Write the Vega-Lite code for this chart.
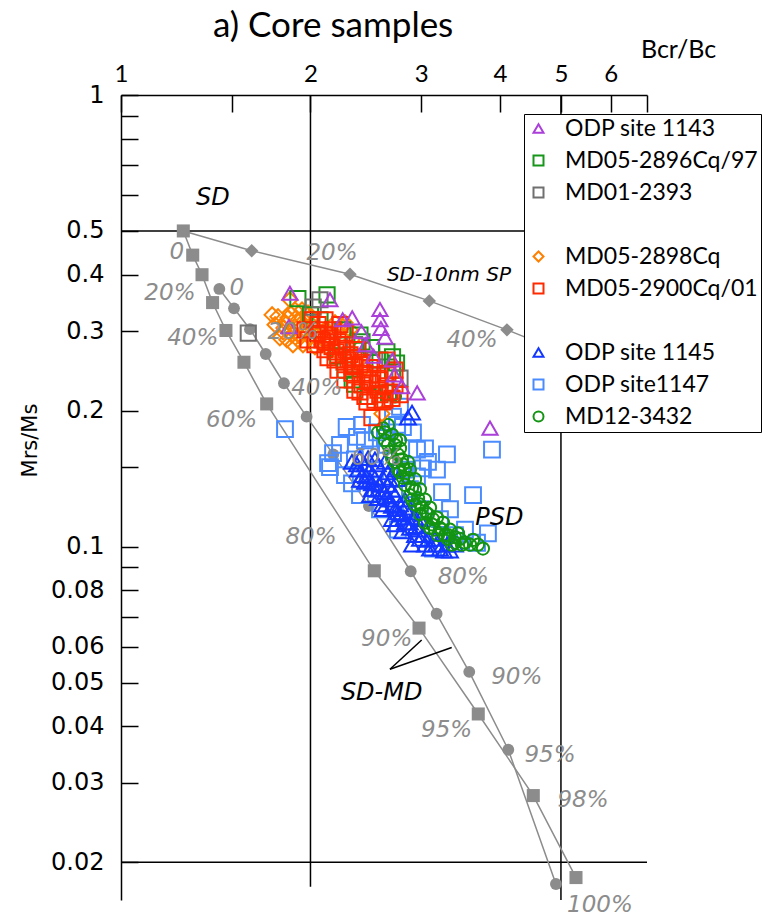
{
  "$schema": "https://vega.github.io/schema/vega-lite/v6.json",
  "width": 526,
  "height": 805,
  "autosize": {"type": "none"},
  "padding": {"left": 121, "top": 95, "right": 122, "bottom": 18},
  "background": "white",
  "title": {"text": "a) Core samples", "anchor": "start", "frame": "group", "dx": 92, "dy": 7, "font": "Lato", "fontSize": 35, "fontWeight": "normal", "color": "black", "offset": 0},
  "config": {
    "font": "DejaVu Sans",
    "view": {"stroke": null},
    "axis": {"grid": false, "domainColor": "black", "domainWidth": 1.5, "tickColor": "black", "tickWidth": 1.5, "labelColor": "black", "titleColor": "black", "titleFontWeight": "normal", "labelOverlap": false, "labelFlush": false}
  },
  "datasets": {
    "vlines": [{"x": 2, "y": 1, "y2": 0.01765}, {"x": 5, "y": 1, "y2": 0.0165}],
    "hlines": [{"y": 0.5}, {"y": 0.02}],
    "model": [
      {"curve": "sq", "x": 1.256, "y": 0.5}, {"curve": "sq", "x": 1.3, "y": 0.442}, {"curve": "sq", "x": 1.345, "y": 0.4}, {"curve": "sq", "x": 1.398, "y": 0.347}, {"curve": "sq", "x": 1.468, "y": 0.301}, {"curve": "sq", "x": 1.568, "y": 0.256}, {"curve": "sq", "x": 1.704, "y": 0.207}, {"curve": "sq", "x": 2.526, "y": 0.0884}, {"curve": "sq", "x": 2.975, "y": 0.066}, {"curve": "sq", "x": 3.695, "y": 0.0426}, {"curve": "sq", "x": 4.519, "y": 0.0281}, {"curve": "sq", "x": 5.283, "y": 0.0185},
      {"curve": "ci", "x": 1.433, "y": 0.372}, {"curve": "ci", "x": 1.512, "y": 0.337}, {"curve": "ci", "x": 1.603, "y": 0.303}, {"curve": "ci", "x": 1.698, "y": 0.267}, {"curve": "ci", "x": 1.815, "y": 0.23}, {"curve": "ci", "x": 1.972, "y": 0.194}, {"curve": "ci", "x": 2.174, "y": 0.16}, {"curve": "ci", "x": 2.477, "y": 0.123}, {"curve": "ci", "x": 2.886, "y": 0.0882}, {"curve": "ci", "x": 3.173, "y": 0.071}, {"curve": "ci", "x": 3.575, "y": 0.0528}, {"curve": "ci", "x": 4.124, "y": 0.0355}, {"curve": "ci", "x": 4.909, "y": 0.0179},
      {"curve": "di", "x": 1.256, "y": 0.5}, {"curve": "di", "x": 1.613, "y": 0.452}, {"curve": "di", "x": 2.311, "y": 0.401}, {"curve": "di", "x": 3.089, "y": 0.35}, {"curve": "di", "x": 4.104, "y": 0.302}, {"curve": "di", "x": 4.98, "y": 0.271}
    ],
    "greylabels": [
      {"label": "0", "x": 1.226, "y": 0.45}, {"label": "20%", "x": 1.196, "y": 0.364}, {"label": "40%", "x": 1.3, "y": 0.29}, {"label": "60%", "x": 1.499, "y": 0.191}, {"label": "80%", "x": 2.004, "y": 0.105}, {"label": "90%", "x": 2.643, "y": 0.0625}, {"label": "95%", "x": 3.291, "y": 0.0393}, {"label": "98%", "x": 5.419, "y": 0.0275}, {"label": "100%", "x": 5.767, "y": 0.0161},
      {"label": "0", "x": 1.527, "y": 0.373}, {"label": "20%", "x": 1.876, "y": 0.299}, {"label": "40%", "x": 2.046, "y": 0.2245}, {"label": "60%", "x": 2.548, "y": 0.157}, {"label": "80%", "x": 3.498, "y": 0.0858}, {"label": "90%", "x": 4.253, "y": 0.0515}, {"label": "95%", "x": 4.803, "y": 0.0346},
      {"label": "20%", "x": 2.164, "y": 0.447}, {"label": "40%", "x": 3.611, "y": 0.287}
    ],
    "blacklabels": [
      {"label": "SD", "x": 1.4, "y": 0.592}, {"label": "PSD", "x": 3.99, "y": 0.1156}, {"label": "SD-MD", "x": 2.595, "y": 0.0474}, {"label": "SD-10nm SP", "x": 3.319, "y": 0.3995}
    ],
    "pointers": [
      {"x": 2.675, "y": 0.0535, "x2": 3.004, "y2": 0.0621}, {"x": 2.675, "y": 0.0535, "x2": 3.353, "y2": 0.0598}
    ],
    "samples": [
      {"series": "ODP site1147", "x": 1.822, "y": 0.182}, {"series": "ODP site1147", "x": 2.283, "y": 0.184}, {"series": "ODP site1147", "x": 2.228, "y": 0.168}, {"series": "ODP site1147", "x": 2.133, "y": 0.153}, {"series": "ODP site1147", "x": 2.148, "y": 0.15}, {"series": "ODP site1147", "x": 2.269, "y": 0.144}, {"series": "ODP site1147", "x": 2.397, "y": 0.13}, {"series": "ODP site1147", "x": 3.041, "y": 0.165}, {"series": "ODP site1147", "x": 3.074, "y": 0.154}, {"series": "ODP site1147", "x": 3.018, "y": 0.149}, {"series": "ODP site1147", "x": 3.236, "y": 0.132}, {"series": "ODP site1147", "x": 3.625, "y": 0.13}, {"series": "ODP site1147", "x": 3.885, "y": 0.164}, {"series": "ODP site1147", "x": 3.828, "y": 0.107}, {"series": "ODP site1147", "x": 3.678, "y": 0.102}, {"series": "ODP site1147", "x": 3.131, "y": 0.099}, {"series": "ODP site1147", "x": 2.805, "y": 0.184}, {"series": "ODP site1147", "x": 2.745, "y": 0.186}, {"series": "ODP site1147", "x": 2.551, "y": 0.179}, {"series": "ODP site1147", "x": 2.371, "y": 0.175}, {"series": "ODP site1147", "x": 2.91, "y": 0.179}, {"series": "ODP site1147", "x": 2.953, "y": 0.164}, {"series": "ODP site1147", "x": 2.953, "y": 0.143}, {"series": "ODP site1147", "x": 2.775, "y": 0.204}, {"series": "ODP site1147", "x": 2.705, "y": 0.194}, {"series": "ODP site1147", "x": 2.328, "y": 0.138}, {"series": "ODP site1147", "x": 2.172, "y": 0.161}, {"series": "ODP site1147", "x": 2.441, "y": 0.172}, {"series": "ODP site1147", "x": 2.626, "y": 0.174}, {"series": "ODP site1147", "x": 2.878, "y": 0.134}, {"series": "ODP site1147", "x": 2.985, "y": 0.121}, {"series": "ODP site1147", "x": 3.212, "y": 0.115}, {"series": "ODP site1147", "x": 3.393, "y": 0.106}, {"series": "ODP site1147", "x": 2.532, "y": 0.148}, {"series": "ODP site1147", "x": 2.724, "y": 0.124}, {"series": "ODP site1147", "x": 2.486, "y": 0.16}, {"series": "ODP site1147", "x": 2.353, "y": 0.156}, {"series": "ODP site1147", "x": 2.826, "y": 0.148}, {"series": "ODP site1147", "x": 3.332, "y": 0.121}, {"series": "ODP site1147", "x": 3.52, "y": 0.109}, {"series": "ODP site1147", "x": 2.415, "y": 0.186}, {"series": "ODP site1147", "x": 2.645, "y": 0.168}, {"series": "ODP site1147", "x": 3.177, "y": 0.148}, {"series": "ODP site1147", "x": 3.295, "y": 0.16}, {"series": "ODP site1147", "x": 2.579, "y": 0.121}, {"series": "ODP site1147", "x": 2.754, "y": 0.109},
      {"series": "ODP site 1145", "x": 2.857, "y": 0.193}, {"series": "ODP site 1145", "x": 2.9, "y": 0.198}, {"series": "ODP site 1145", "x": 2.397, "y": 0.157}, {"series": "ODP site 1145", "x": 2.441, "y": 0.152}, {"series": "ODP site 1145", "x": 2.486, "y": 0.148}, {"series": "ODP site 1145", "x": 2.415, "y": 0.144}, {"series": "ODP site 1145", "x": 2.532, "y": 0.142}, {"series": "ODP site 1145", "x": 2.579, "y": 0.137}, {"series": "ODP site 1145", "x": 2.504, "y": 0.134}, {"series": "ODP site 1145", "x": 2.626, "y": 0.132}, {"series": "ODP site 1145", "x": 2.675, "y": 0.127}, {"series": "ODP site 1145", "x": 2.598, "y": 0.124}, {"series": "ODP site 1145", "x": 2.724, "y": 0.121}, {"series": "ODP site 1145", "x": 2.775, "y": 0.118}, {"series": "ODP site 1145", "x": 2.695, "y": 0.115}, {"series": "ODP site 1145", "x": 2.826, "y": 0.113}, {"series": "ODP site 1145", "x": 2.878, "y": 0.11}, {"series": "ODP site 1145", "x": 2.795, "y": 0.108}, {"series": "ODP site 1145", "x": 2.932, "y": 0.106}, {"series": "ODP site 1145", "x": 2.985, "y": 0.104}, {"series": "ODP site 1145", "x": 2.9, "y": 0.101}, {"series": "ODP site 1145", "x": 3.041, "y": 0.101}, {"series": "ODP site 1145", "x": 3.097, "y": 0.099}, {"series": "ODP site 1145", "x": 3.212, "y": 0.099}, {"series": "ODP site 1145", "x": 3.332, "y": 0.098}, {"series": "ODP site 1145", "x": 3.393, "y": 0.101}, {"series": "ODP site 1145", "x": 2.469, "y": 0.157}, {"series": "ODP site 1145", "x": 2.56, "y": 0.152}, {"series": "ODP site 1145", "x": 2.655, "y": 0.146}, {"series": "ODP site 1145", "x": 2.754, "y": 0.141}, {"series": "ODP site 1145", "x": 2.441, "y": 0.139}, {"series": "ODP site 1145", "x": 2.56, "y": 0.128}, {"series": "ODP site 1145", "x": 2.724, "y": 0.112}, {"series": "ODP site 1145", "x": 2.964, "y": 0.109}, {"series": "ODP site 1145", "x": 3.153, "y": 0.104}, {"series": "ODP site 1145", "x": 3.295, "y": 0.101}, {"series": "ODP site 1145", "x": 2.371, "y": 0.152}, {"series": "ODP site 1145", "x": 2.607, "y": 0.142}, {"series": "ODP site 1145", "x": 2.878, "y": 0.119}, {"series": "ODP site 1145", "x": 2.486, "y": 0.1405}, {"series": "ODP site 1145", "x": 2.695, "y": 0.1335}, {"series": "ODP site 1145", "x": 2.826, "y": 0.127}, {"series": "ODP site 1145", "x": 2.985, "y": 0.115}, {"series": "ODP site 1145", "x": 2.626, "y": 0.154}, {"series": "ODP site 1145", "x": 2.724, "y": 0.148},
      {"series": "ODP site 1145", "x": 2.328, "y": 0.154}, {"series": "ODP site 1145", "x": 2.38, "y": 0.148}, {"series": "ODP site 1145", "x": 2.45, "y": 0.143}, {"series": "ODP site 1145", "x": 2.504, "y": 0.138}, {"series": "ODP site 1145", "x": 2.56, "y": 0.1335}, {"series": "ODP site 1145", "x": 2.636, "y": 0.129}, {"series": "ODP site 1145", "x": 2.695, "y": 0.123}, {"series": "ODP site 1145", "x": 2.754, "y": 0.119}, {"series": "ODP site 1145", "x": 2.816, "y": 0.116}, {"series": "ODP site 1145", "x": 2.878, "y": 0.113}, {"series": "ODP site 1145", "x": 2.942, "y": 0.111}, {"series": "ODP site 1145", "x": 3.018, "y": 0.106}, {"series": "ODP site 1145", "x": 3.074, "y": 0.1035}, {"series": "ODP site 1145", "x": 3.165, "y": 0.101}, {"series": "ODP site 1145", "x": 3.26, "y": 0.098}, {"series": "ODP site 1145", "x": 2.655, "y": 0.137}, {"series": "ODP site 1145", "x": 2.775, "y": 0.124}, {"series": "ODP site 1145", "x": 2.397, "y": 0.1405}, {"series": "ODP site 1145", "x": 2.486, "y": 0.13}, {"series": "ODP site 1145", "x": 2.607, "y": 0.121}, {"series": "ODP site 1145", "x": 2.724, "y": 0.13}, {"series": "ODP site 1145", "x": 2.826, "y": 0.122}, {"series": "ODP site 1145", "x": 2.932, "y": 0.116}, {"series": "ODP site 1145", "x": 2.532, "y": 0.156}, {"series": "ODP site 1145", "x": 2.675, "y": 0.1405},
      {"series": "MD12-3432", "x": 2.724, "y": 0.215}, {"series": "MD12-3432", "x": 2.607, "y": 0.183}, {"series": "MD12-3432", "x": 2.655, "y": 0.186}, {"series": "MD12-3432", "x": 2.695, "y": 0.177}, {"series": "MD12-3432", "x": 2.626, "y": 0.172}, {"series": "MD12-3432", "x": 2.724, "y": 0.168}, {"series": "MD12-3432", "x": 2.675, "y": 0.162}, {"series": "MD12-3432", "x": 2.754, "y": 0.16}, {"series": "MD12-3432", "x": 2.724, "y": 0.154}, {"series": "MD12-3432", "x": 2.805, "y": 0.152}, {"series": "MD12-3432", "x": 2.775, "y": 0.146}, {"series": "MD12-3432", "x": 2.857, "y": 0.142}, {"series": "MD12-3432", "x": 2.826, "y": 0.137}, {"series": "MD12-3432", "x": 2.9, "y": 0.135}, {"series": "MD12-3432", "x": 2.878, "y": 0.13}, {"series": "MD12-3432", "x": 2.964, "y": 0.128}, {"series": "MD12-3432", "x": 2.932, "y": 0.124}, {"series": "MD12-3432", "x": 3.007, "y": 0.122}, {"series": "MD12-3432", "x": 2.985, "y": 0.118}, {"series": "MD12-3432", "x": 3.074, "y": 0.118}, {"series": "MD12-3432", "x": 3.041, "y": 0.113}, {"series": "MD12-3432", "x": 3.119, "y": 0.112}, {"series": "MD12-3432", "x": 3.153, "y": 0.109}, {"series": "MD12-3432", "x": 3.212, "y": 0.11}, {"series": "MD12-3432", "x": 3.189, "y": 0.106}, {"series": "MD12-3432", "x": 3.272, "y": 0.106}, {"series": "MD12-3432", "x": 3.307, "y": 0.104}, {"series": "MD12-3432", "x": 3.393, "y": 0.105}, {"series": "MD12-3432", "x": 3.357, "y": 0.101}, {"series": "MD12-3432", "x": 3.456, "y": 0.104}, {"series": "MD12-3432", "x": 3.52, "y": 0.102}, {"series": "MD12-3432", "x": 3.585, "y": 0.101}, {"series": "MD12-3432", "x": 3.691, "y": 0.101}, {"series": "MD12-3432", "x": 3.759, "y": 0.099}, {"series": "MD12-3432", "x": 2.655, "y": 0.168}, {"series": "MD12-3432", "x": 2.775, "y": 0.165}, {"series": "MD12-3432", "x": 2.795, "y": 0.156}, {"series": "MD12-3432", "x": 2.878, "y": 0.148}, {"series": "MD12-3432", "x": 2.932, "y": 0.141}, {"series": "MD12-3432", "x": 2.985, "y": 0.134}, {"series": "MD12-3432", "x": 3.041, "y": 0.127}, {"series": "MD12-3432", "x": 3.097, "y": 0.122}, {"series": "MD12-3432", "x": 3.177, "y": 0.116}, {"series": "MD12-3432", "x": 3.248, "y": 0.113}, {"series": "MD12-3432", "x": 3.332, "y": 0.109}, {"series": "MD12-3432", "x": 3.431, "y": 0.107},
      {"series": "MD12-3432", "x": 2.56, "y": 0.179}, {"series": "MD12-3432", "x": 2.626, "y": 0.179}, {"series": "MD12-3432", "x": 2.734, "y": 0.172}, {"series": "MD12-3432", "x": 2.695, "y": 0.157}, {"series": "MD12-3432", "x": 2.826, "y": 0.148}, {"series": "MD12-3432", "x": 2.805, "y": 0.142}, {"series": "MD12-3432", "x": 2.932, "y": 0.1335}, {"series": "MD12-3432", "x": 2.9, "y": 0.127}, {"series": "MD12-3432", "x": 2.985, "y": 0.124}, {"series": "MD12-3432", "x": 3.052, "y": 0.119}, {"series": "MD12-3432", "x": 3.131, "y": 0.115}, {"series": "MD12-3432", "x": 3.097, "y": 0.11}, {"series": "MD12-3432", "x": 3.236, "y": 0.109}, {"series": "MD12-3432", "x": 3.307, "y": 0.106}, {"series": "MD12-3432", "x": 3.393, "y": 0.102}, {"series": "MD12-3432", "x": 3.481, "y": 0.101}, {"series": "MD12-3432", "x": 3.625, "y": 0.1035}, {"series": "MD12-3432", "x": 2.775, "y": 0.172}, {"series": "MD12-3432", "x": 2.857, "y": 0.154}, {"series": "MD12-3432", "x": 2.754, "y": 0.148},
      {"series": "MD05-2898Cq", "x": 1.738, "y": 0.326}, {"series": "MD05-2898Cq", "x": 1.788, "y": 0.29}, {"series": "MD05-2898Cq", "x": 1.855, "y": 0.329}, {"series": "MD05-2898Cq", "x": 1.939, "y": 0.334}, {"series": "MD05-2898Cq", "x": 1.982, "y": 0.329}, {"series": "MD05-2898Cq", "x": 1.89, "y": 0.307}, {"series": "MD05-2898Cq", "x": 2.252, "y": 0.307}, {"series": "MD05-2898Cq", "x": 2.188, "y": 0.313}, {"series": "MD05-2898Cq", "x": 2.328, "y": 0.287}, {"series": "MD05-2898Cq", "x": 2.441, "y": 0.249}, {"series": "MD05-2898Cq", "x": 2.38, "y": 0.256}, {"series": "MD05-2898Cq", "x": 1.776, "y": 0.323}, {"series": "MD05-2898Cq", "x": 1.808, "y": 0.299}, {"series": "MD05-2898Cq", "x": 1.835, "y": 0.287}, {"series": "MD05-2898Cq", "x": 1.982, "y": 0.326}, {"series": "MD05-2898Cq", "x": 1.924, "y": 0.31}, {"series": "MD05-2898Cq", "x": 2.269, "y": 0.313}, {"series": "MD05-2898Cq", "x": 2.311, "y": 0.302}, {"series": "MD05-2898Cq", "x": 2.033, "y": 0.277}, {"series": "MD05-2898Cq", "x": 1.855, "y": 0.352}, {"series": "MD05-2898Cq", "x": 1.822, "y": 0.314}, {"series": "MD05-2898Cq", "x": 1.869, "y": 0.294}, {"series": "MD05-2898Cq", "x": 1.91, "y": 0.287}, {"series": "MD05-2898Cq", "x": 1.96, "y": 0.302}, {"series": "MD05-2898Cq", "x": 1.996, "y": 0.29}, {"series": "MD05-2898Cq", "x": 2.056, "y": 0.294}, {"series": "MD05-2898Cq", "x": 2.086, "y": 0.28}, {"series": "MD05-2898Cq", "x": 2.133, "y": 0.284}, {"series": "MD05-2898Cq", "x": 2.011, "y": 0.31}, {"series": "MD05-2898Cq", "x": 2.109, "y": 0.302}, {"series": "MD05-2898Cq", "x": 2.148, "y": 0.273}, {"series": "MD05-2898Cq", "x": 2.228, "y": 0.266}, {"series": "MD05-2898Cq", "x": 2.598, "y": 0.197}, {"series": "MD05-2898Cq", "x": 1.897, "y": 0.321}, {"series": "MD05-2898Cq", "x": 1.946, "y": 0.28}, {"series": "MD05-2898Cq", "x": 1.757, "y": 0.31}, {"series": "MD05-2898Cq", "x": 1.842, "y": 0.321}, {"series": "MD05-2898Cq", "x": 1.89, "y": 0.334}, {"series": "MD05-2898Cq", "x": 1.924, "y": 0.294}, {"series": "MD05-2898Cq", "x": 1.967, "y": 0.314}, {"series": "MD05-2898Cq", "x": 1.815, "y": 0.305}, {"series": "MD05-2898Cq", "x": 1.876, "y": 0.28},
      {"series": "MD05-2896Cq/97", "x": 1.91, "y": 0.354}, {"series": "MD05-2896Cq/97", "x": 2.125, "y": 0.361}, {"series": "MD05-2896Cq/97", "x": 2.25, "y": 0.302}, {"series": "MD05-2896Cq/97", "x": 2.415, "y": 0.284}, {"series": "MD05-2896Cq/97", "x": 2.5, "y": 0.276}, {"series": "MD05-2896Cq/97", "x": 2.645, "y": 0.27}, {"series": "MD05-2896Cq/97", "x": 2.7, "y": 0.263}, {"series": "MD05-2896Cq/97", "x": 2.74, "y": 0.255}, {"series": "MD05-2896Cq/97", "x": 2.7, "y": 0.246}, {"series": "MD05-2896Cq/97", "x": 2.35, "y": 0.229}, {"series": "MD05-2896Cq/97", "x": 2.33, "y": 0.234}, {"series": "MD05-2896Cq/97", "x": 2.47, "y": 0.215}, {"series": "MD05-2896Cq/97", "x": 2.66, "y": 0.219}, {"series": "MD05-2896Cq/97", "x": 2.27, "y": 0.246}, {"series": "MD05-2896Cq/97", "x": 2.21, "y": 0.2645}, {"series": "MD05-2896Cq/97", "x": 2.0, "y": 0.326}, {"series": "MD05-2896Cq/97", "x": 2.071, "y": 0.318}, {"series": "MD05-2896Cq/97", "x": 2.397, "y": 0.294}, {"series": "MD05-2896Cq/97", "x": 2.579, "y": 0.259},
      {"series": "MD01-2393", "x": 1.593, "y": 0.297}, {"series": "MD01-2393", "x": 2.071, "y": 0.352}, {"series": "MD01-2393", "x": 2.02, "y": 0.339}, {"series": "MD01-2393", "x": 2.35, "y": 0.28}, {"series": "MD01-2393", "x": 2.53, "y": 0.259}, {"series": "MD01-2393", "x": 2.775, "y": 0.236},
      {"series": "MD05-2900Cq/01", "x": 1.96, "y": 0.302}, {"series": "MD05-2900Cq/01", "x": 2.011, "y": 0.318}, {"series": "MD05-2900Cq/01", "x": 2.056, "y": 0.31}, {"series": "MD05-2900Cq/01", "x": 2.086, "y": 0.287}, {"series": "MD05-2900Cq/01", "x": 2.164, "y": 0.277}, {"series": "MD05-2900Cq/01", "x": 2.294, "y": 0.259}, {"series": "MD05-2900Cq/01", "x": 2.353, "y": 0.25}, {"series": "MD05-2900Cq/01", "x": 2.441, "y": 0.242}, {"series": "MD05-2900Cq/01", "x": 2.504, "y": 0.23}, {"series": "MD05-2900Cq/01", "x": 2.56, "y": 0.222}, {"series": "MD05-2900Cq/01", "x": 2.626, "y": 0.211}, {"series": "MD05-2900Cq/01", "x": 2.441, "y": 0.215}, {"series": "MD05-2900Cq/01", "x": 2.532, "y": 0.211}, {"series": "MD05-2900Cq/01", "x": 2.655, "y": 0.242}, {"series": "MD05-2900Cq/01", "x": 2.645, "y": 0.259}, {"series": "MD05-2900Cq/01", "x": 2.38, "y": 0.273}, {"series": "MD05-2900Cq/01", "x": 2.269, "y": 0.297}, {"series": "MD05-2900Cq/01", "x": 2.172, "y": 0.302}, {"series": "MD05-2900Cq/01", "x": 2.133, "y": 0.262}, {"series": "MD05-2900Cq/01", "x": 2.212, "y": 0.246}, {"series": "MD05-2900Cq/01", "x": 2.328, "y": 0.242}, {"series": "MD05-2900Cq/01", "x": 2.188, "y": 0.259}, {"series": "MD05-2900Cq/01", "x": 2.109, "y": 0.273}, {"series": "MD05-2900Cq/01", "x": 2.048, "y": 0.297}, {"series": "MD05-2900Cq/01", "x": 2.504, "y": 0.193}, {"series": "MD05-2900Cq/01", "x": 2.459, "y": 0.209}, {"series": "MD05-2900Cq/01", "x": 2.607, "y": 0.209}, {"series": "MD05-2900Cq/01", "x": 2.724, "y": 0.228}, {"series": "MD05-2900Cq/01", "x": 2.775, "y": 0.217}, {"series": "MD05-2900Cq/01", "x": 2.244, "y": 0.28}, {"series": "MD05-2900Cq/01", "x": 2.311, "y": 0.266}, {"series": "MD05-2900Cq/01", "x": 2.397, "y": 0.253}, {"series": "MD05-2900Cq/01", "x": 2.486, "y": 0.24}, {"series": "MD05-2900Cq/01", "x": 2.579, "y": 0.234}, {"series": "MD05-2900Cq/01", "x": 2.675, "y": 0.22}, {"series": "MD05-2900Cq/01", "x": 2.033, "y": 0.28}, {"series": "MD05-2900Cq/01", "x": 2.148, "y": 0.29}, {"series": "MD05-2900Cq/01", "x": 2.415, "y": 0.228}, {"series": "MD05-2900Cq/01", "x": 2.269, "y": 0.234}, {"series": "MD05-2900Cq/01", "x": 2.353, "y": 0.222}, {"series": "MD05-2900Cq/01", "x": 1.982, "y": 0.287}, {"series": "MD05-2900Cq/01", "x": 2.724, "y": 0.246}, {"series": "MD05-2900Cq/01", "x": 2.228, "y": 0.31}, {"series": "MD05-2900Cq/01", "x": 2.109, "y": 0.318},
      {"series": "MD05-2900Cq/01", "x": 2.071, "y": 0.302}, {"series": "MD05-2900Cq/01", "x": 2.133, "y": 0.294}, {"series": "MD05-2900Cq/01", "x": 2.212, "y": 0.284}, {"series": "MD05-2900Cq/01", "x": 2.277, "y": 0.2725}, {"series": "MD05-2900Cq/01", "x": 2.345, "y": 0.262}, {"series": "MD05-2900Cq/01", "x": 2.415, "y": 0.256}, {"series": "MD05-2900Cq/01", "x": 2.486, "y": 0.249}, {"series": "MD05-2900Cq/01", "x": 2.56, "y": 0.236}, {"series": "MD05-2900Cq/01", "x": 2.636, "y": 0.227}, {"series": "MD05-2900Cq/01", "x": 2.695, "y": 0.213}, {"series": "MD05-2900Cq/01", "x": 2.196, "y": 0.27}, {"series": "MD05-2900Cq/01", "x": 2.328, "y": 0.251}, {"series": "MD05-2900Cq/01", "x": 2.469, "y": 0.234}, {"series": "MD05-2900Cq/01", "x": 2.579, "y": 0.217}, {"series": "MD05-2900Cq/01", "x": 2.397, "y": 0.22}, {"series": "MD05-2900Cq/01", "x": 2.261, "y": 0.256}, {"series": "MD05-2900Cq/01", "x": 2.117, "y": 0.284},
      {"series": "ODP site 1143", "x": 1.855, "y": 0.364}, {"series": "ODP site 1143", "x": 2.579, "y": 0.335}, {"series": "ODP site 1143", "x": 2.579, "y": 0.318}, {"series": "ODP site 1143", "x": 2.588, "y": 0.304}, {"series": "ODP site 1143", "x": 2.627, "y": 0.291}, {"series": "ODP site 1143", "x": 2.41, "y": 0.299}, {"series": "ODP site 1143", "x": 2.25, "y": 0.318}, {"series": "ODP site 1143", "x": 2.955, "y": 0.219}, {"series": "ODP site 1143", "x": 2.793, "y": 0.226}, {"series": "ODP site 1143", "x": 2.72, "y": 0.24}, {"series": "ODP site 1143", "x": 2.45, "y": 0.28}, {"series": "ODP site 1143", "x": 2.52, "y": 0.264}, {"series": "ODP site 1143", "x": 3.857, "y": 0.183}, {"series": "ODP site 1143", "x": 2.148, "y": 0.352}, {"series": "ODP site 1143", "x": 2.33, "y": 0.321}, {"series": "ODP site 1143", "x": 1.848, "y": 0.307}, {"series": "ODP site 1143", "x": 2.7, "y": 0.259}
    ]
  },
  "layer": [
    {
      "data": {"name": "vlines"},
      "mark": {"type": "rule", "color": "black", "strokeWidth": 1.5},
      "encoding": {
        "x": {"field": "x", "type": "quantitative", "scale": {"type": "log", "domain": [1, 6.85], "nice": false}},
        "y": {"field": "y", "type": "quantitative", "scale": {"type": "log", "domain": [0.0165, 1], "nice": false}},
        "y2": {"field": "y2"}
      }
    },
    {
      "data": {"name": "hlines"},
      "mark": {"type": "rule", "color": "black", "strokeWidth": 1.5},
      "encoding": {
        "y": {"field": "y", "type": "quantitative", "scale": {"type": "log", "domain": [0.0165, 1], "nice": false}}
      }
    },
    {
      "data": {"name": "model"},
      "mark": {"type": "line", "color": "#8c8c8c", "strokeWidth": 1.5},
      "encoding": {
        "x": {"field": "x", "type": "quantitative", "scale": {"type": "log", "domain": [1, 6.85], "nice": false}},
        "y": {"field": "y", "type": "quantitative", "scale": {"type": "log", "domain": [0.0165, 1], "nice": false}},
        "detail": {"field": "curve", "type": "nominal"}
      }
    },
    {
      "data": {"name": "model"},
      "transform": [{"filter": "datum.curve == 'sq'"}],
      "mark": {"type": "point", "shape": "square", "filled": true, "color": "#8c8c8c", "opacity": 1, "size": 170},
      "encoding": {
        "x": {"field": "x", "type": "quantitative"},
        "y": {"field": "y", "type": "quantitative"}
      }
    },
    {
      "data": {"name": "model"},
      "transform": [{"filter": "datum.curve == 'ci'"}],
      "mark": {"type": "point", "shape": "circle", "filled": true, "color": "#8c8c8c", "opacity": 1, "size": 140},
      "encoding": {
        "x": {"field": "x", "type": "quantitative"},
        "y": {"field": "y", "type": "quantitative"}
      }
    },
    {
      "data": {"name": "model"},
      "transform": [{"filter": "datum.curve == 'di' && datum.x > 1.3"}],
      "mark": {"type": "point", "shape": "diamond", "filled": true, "color": "#8c8c8c", "opacity": 1, "size": 180},
      "encoding": {
        "x": {"field": "x", "type": "quantitative"},
        "y": {"field": "y", "type": "quantitative"}
      }
    },
    {
      "data": {"name": "samples"},
      "transform": [{"filter": "datum.series == 'ODP site1147' || datum.series == 'ODP site 1145'"}],
      "mark": {"type": "point", "filled": false, "strokeWidth": 2, "size": 250, "opacity": 1},
      "encoding": {
        "x": {"field": "x", "type": "quantitative", "scale": {"type": "log", "domain": [1, 6.85], "nice": false},
          "axis": {"orient": "top", "values": [1, 1.5, 2, 3, 4, 5, 6, 6.85], "format": "~g", "labelExpr": "datum.value == 1.5 || datum.value > 6.5 ? '' : datum.label", "tickSize": -17, "labelPadding": 26, "labelFont": "Lato", "labelFontSize": 24, "title": "Bcr/Bc", "titleFont": "Lato", "titleFontSize": 25, "titleX": 557, "titleY": -38, "titleAlign": "center", "titleBaseline": "alphabetic", "titleAngle": 0}},
        "y": {"field": "y", "type": "quantitative", "scale": {"type": "log", "domain": [0.0165, 1], "nice": false},
          "axis": {"orient": "left", "values": [0.02, 0.03, 0.04, 0.05, 0.06, 0.07, 0.08, 0.09, 0.1, 0.15, 0.2, 0.3, 0.4, 0.5, 0.6, 0.7, 0.8, 0.9, 1], "format": "~g", "labelExpr": "indexof([0.07, 0.09, 0.15, 0.6, 0.7, 0.8, 0.9], datum.value) >= 0 ? '' : datum.label", "tickSize": -17, "labelPadding": 34, "labelFont": "DejaVu Sans", "labelFontSize": 24, "title": "Mrs/Ms", "titleFont": "DejaVu Sans", "titleFontSize": 21, "titleX": -91, "titleY": 345, "titleAngle": -90, "titleAlign": "center", "titleBaseline": "middle"}},
        "color": {"field": "series", "type": "nominal",
          "scale": {"domain": ["ODP site 1143", "MD05-2896Cq/97", "MD01-2393", " ", "MD05-2898Cq", "MD05-2900Cq/01", "  ", "ODP site 1145", "ODP site1147", "MD12-3432"],
            "range": ["#ab3fd9", "#17961a", "#707070", "transparent", "#ff8000", "#ff2a00", "transparent", "#1437ff", "#4a8cff", "#139413"]},
          "legend": {"title": null, "orient": "none", "legendX": 403, "legendY": 19, "padding": 3, "rowPadding": 8, "labelFont": "Lato", "labelFontSize": 23, "labelColor": "black", "labelOffset": 15, "symbolSize": 100, "symbolStrokeWidth": 2, "strokeColor": "black", "fillColor": "white", "zindex": 1, "labelLimit": 400}},
        "shape": {"field": "series", "type": "nominal",
          "scale": {"domain": ["ODP site 1143", "MD05-2896Cq/97", "MD01-2393", " ", "MD05-2898Cq", "MD05-2900Cq/01", "  ", "ODP site 1145", "ODP site1147", "MD12-3432"],
            "range": ["triangle-up", "square", "square", "circle", "diamond", "square", "circle", "triangle-up", "square", "circle"]},
          "legend": {"title": null, "orient": "none", "legendX": 403, "legendY": 19, "padding": 3, "rowPadding": 8, "labelFont": "Lato", "labelFontSize": 23, "labelColor": "black", "labelOffset": 15, "symbolSize": 100, "symbolStrokeWidth": 2, "strokeColor": "black", "fillColor": "white", "zindex": 1, "labelLimit": 400}}
      }
    },
    {
      "data": {"name": "samples"},
      "transform": [{"filter": "datum.series == 'MD12-3432'"}],
      "mark": {"type": "point", "filled": false, "strokeWidth": 2, "size": 150, "opacity": 1},
      "encoding": {
        "x": {"field": "x", "type": "quantitative"},
        "y": {"field": "y", "type": "quantitative"},
        "color": {"field": "series", "type": "nominal"},
        "shape": {"field": "series", "type": "nominal"}
      }
    },
    {
      "data": {"name": "samples"},
      "transform": [{"filter": "datum.series != 'MD12-3432' && datum.series != 'ODP site1147' && datum.series != 'ODP site 1145'"}],
      "mark": {"type": "point", "filled": false, "strokeWidth": 2, "size": 230, "opacity": 1},
      "encoding": {
        "x": {"field": "x", "type": "quantitative"},
        "y": {"field": "y", "type": "quantitative"},
        "color": {"field": "series", "type": "nominal"},
        "shape": {"field": "series", "type": "nominal"}
      }
    },
    {
      "data": {"name": "greylabels"},
      "mark": {"type": "text", "font": "DejaVu Sans", "fontStyle": "italic", "fontSize": 23, "color": "#8c8c8c", "align": "center", "baseline": "middle"},
      "encoding": {
        "x": {"field": "x", "type": "quantitative"},
        "y": {"field": "y", "type": "quantitative"},
        "text": {"field": "label", "type": "nominal"}
      }
    },
    {
      "data": {"name": "blacklabels"},
      "transform": [{"filter": "datum.label != 'SD-10nm SP'"}],
      "mark": {"type": "text", "font": "DejaVu Sans", "fontStyle": "italic", "fontSize": 24, "color": "black", "align": "center", "baseline": "middle"},
      "encoding": {
        "x": {"field": "x", "type": "quantitative"},
        "y": {"field": "y", "type": "quantitative"},
        "text": {"field": "label", "type": "nominal"}
      }
    },
    {
      "data": {"name": "blacklabels"},
      "transform": [{"filter": "datum.label == 'SD-10nm SP'"}],
      "mark": {"type": "text", "font": "DejaVu Sans", "fontStyle": "italic", "fontSize": 20, "color": "black", "align": "center", "baseline": "middle"},
      "encoding": {
        "x": {"field": "x", "type": "quantitative"},
        "y": {"field": "y", "type": "quantitative"},
        "text": {"field": "label", "type": "nominal"}
      }
    },
    {
      "data": {"name": "pointers"},
      "mark": {"type": "rule", "color": "black", "strokeWidth": 1.5},
      "encoding": {
        "x": {"field": "x", "type": "quantitative"},
        "y": {"field": "y", "type": "quantitative"},
        "x2": {"field": "x2"},
        "y2": {"field": "y2"}
      }
    }
  ]
}
